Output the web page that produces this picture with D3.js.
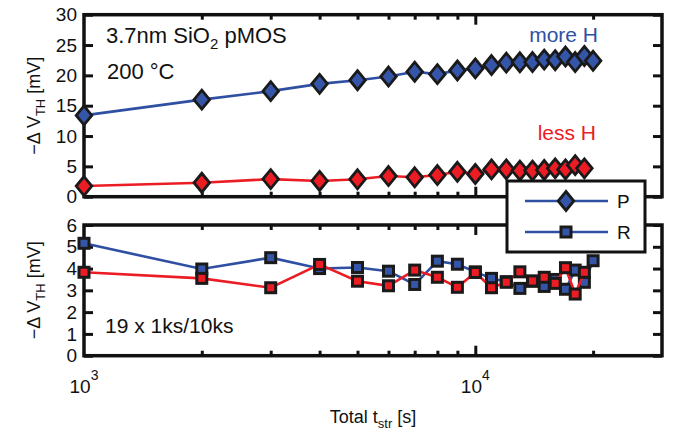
<!DOCTYPE html>
<html><head><meta charset="utf-8">
<script src="https://cdn.jsdelivr.net/npm/d3@7"></script>
<style>
body{margin:0;background:#fff;}
svg{display:block;font-family:"Liberation Sans",Arial,sans-serif;}
</style></head><body>
<svg id="c" width="673" height="433"></svg>
<script>
// ---- data ----
const timesP = [1000,2000,3000,4000,5000,6000,7000,8000,9000,10000,11000,12000,13000,14000,15000,16000,17000,18000,19000,20000];
const moreH_P = [13.4,16.0,17.4,18.6,19.2,19.8,20.6,20.2,20.8,21.15,21.7,22.1,22.15,22.2,22.6,22.5,23.1,22.2,23.2,22.4];
const timesLessH = [1000,2000,3000,4000,5000,6000,7000,8000,9000,10000,11000,12000,13000,14000,15000,16000,17000,18000,19000];
const lessH_P = [1.76,2.3,2.9,2.6,2.87,3.4,3.2,3.57,4.1,3.74,4.5,4.5,4.3,4.3,4.4,4.67,4.5,5.2,4.67];
const moreH_R = [5.16,3.98,4.5,4.0,4.05,3.88,3.27,4.34,4.2,3.85,3.55,3.4,3.09,3.42,3.18,3.5,3.05,3.93,3.37,4.36];
const lessH_R = [3.83,3.55,3.12,4.19,3.42,3.21,3.93,3.6,3.14,3.82,3.12,3.37,3.85,3.43,3.6,3.32,4.04,2.83,3.83];
const xTicks = [1000,2000,3000,4000,5000,6000,7000,8000,9000,10000,20000];
const xMajor = [1000,10000];
const yTicksTop = [0,5,10,15,20,25,30];
const yTicksBot = [0,1,2,3,4,5,6];
const legendItems = ["P","R"];

const BLUE = "#2f4fa3", BLUEF = "#3556a8", RED = "#ec1c24";
const svg = d3.select("#c");
const L = 84, R = 662;
const x = d3.scaleLog().domain([1000,30000]).range([L,R]);
const yT = d3.scaleLinear().domain([0,30]).range([196.7,14.7]);
const yB = d3.scaleLinear().domain([0,6]).range([355.7,225]);

function panel(y, yticks){
  const g = svg.append("g");
  const [y0,y1] = y.range();
  g.append("g").attr("transform",`translate(${L},0)`)
    .call(d3.axisLeft(y).tickValues(yticks).tickSize(-9).tickPadding(7).tickFormat(d3.format("d")))
    .call(a=>{a.select(".domain").remove();
      a.selectAll("line").attr("stroke","#111").attr("stroke-width",3);
      a.selectAll("text").attr("font-size",19).attr("fill","#111");});
  g.append("g").attr("transform",`translate(${R},0)`)
    .call(d3.axisRight(y).tickValues(yticks).tickSize(-9).tickFormat(""))
    .call(a=>{a.select(".domain").remove();
      a.selectAll("line").attr("stroke","#111").attr("stroke-width",3);});
  [[y0,d3.axisBottom],[y1,d3.axisTop]].forEach(([yy,ax])=>{
    g.append("g").attr("transform",`translate(0,${yy})`)
      .call(ax(x).tickValues(xTicks.filter(d=>d>1000)).tickSize(-5).tickFormat(""))
      .call(a=>{a.select(".domain").remove();
        a.selectAll("line").attr("stroke","#111").attr("stroke-width",3)
          .attr("y2",d=> (xMajor.includes(d)?10:5)*(yy===y0?-1:1));});
  });
  g.append("rect").attr("x",L).attr("y",y1).attr("width",R-L).attr("height",y0-y1)
    .attr("fill","none").attr("stroke","#111").attr("stroke-width",3.5);
  return g;
}
const gT = panel(yT, yTicksTop);
const gB = panel(yB, yTicksBot);

const diamond = "M0,-9.5L7.8,0L0,9.5L-7.8,0Z";
function series(g, y, xs, ys, color, fill, shape){
  const line = d3.line().x((d,i)=>x(xs[i])).y(d=>y(d));
  g.append("path").datum(ys).attr("d",line).attr("fill","none").attr("stroke",color).attr("stroke-width",2.6);
  const m = g.append("g");
  ys.forEach((v,i)=>{
    if(shape==="d"){
      m.append("path").attr("d",diamond).attr("transform",`translate(${x(xs[i])},${y(v)})`)
        .attr("fill",fill).attr("stroke","#1a1a1a").attr("stroke-width",2.8).attr("stroke-linejoin","miter");
    } else {
      m.append("rect").attr("x",x(xs[i])-5).attr("y",y(v)-5).attr("width",10).attr("height",10)
        .attr("fill",fill).attr("stroke","#1a1a1a").attr("stroke-width",3);
    }
  });
}
series(gT, yT, timesP, moreH_P, BLUE, BLUEF, "d");
series(gT, yT, timesLessH, lessH_P, RED, RED, "d");
series(gB, yB, timesP, moreH_R, BLUE, BLUEF, "s");
series(gB, yB, timesLessH, lessH_R, RED, RED, "s");

// annotations
const t1 = svg.append("text").attr("x",106).attr("y",43).attr("font-size",22).attr("fill","#111");
t1.append("tspan").text("3.7nm SiO");
t1.append("tspan").attr("font-size",15).attr("dy",6).text("2");
t1.append("tspan").attr("dy",-6).text(" pMOS");
svg.append("text").attr("x",107).attr("y",79).attr("font-size",22).attr("fill","#111").text("200 °C");
svg.append("text").attr("x",598).attr("y",42).attr("font-size",21).attr("fill",BLUE).attr("text-anchor","end").text("more H");
svg.append("text").attr("x",596).attr("y",140).attr("font-size",21).attr("fill",RED).attr("text-anchor","end").text("less H");
svg.append("text").attr("x",105).attr("y",333).attr("font-size",21).attr("fill","#111").text("19 x 1ks/10ks");

function ylab(cy){
  const t = svg.append("text").attr("transform",`translate(40,${cy}) rotate(-90)`)
    .attr("text-anchor","middle").attr("font-size",18).attr("fill","#111");
  t.append("tspan").text("\u2212\u0394 V");
  t.append("tspan").attr("font-size",13).attr("dy",5).text("TH");
  t.append("tspan").attr("dy",-5).text(" [mV]");
}
ylab(105.7); ylab(290.3);

xMajor.forEach(v=>{
  const t = svg.append("text").attr("x",x(v)).attr("y",393).attr("text-anchor","middle").attr("font-size",19).attr("fill","#111");
  t.append("tspan").text("10");
  t.append("tspan").attr("font-size",14).attr("dy",-13).text(String(Math.log10(v)));
});
const xl = svg.append("text").attr("x",373).attr("y",423).attr("text-anchor","middle").attr("font-size",18).attr("fill","#111");
xl.append("tspan").text("Total t");
xl.append("tspan").attr("font-size",13).attr("dy",5).text("str");
xl.append("tspan").attr("dy",-5).text(" [s]");

const lg = svg.append("g");
lg.append("rect").attr("x",507).attr("y",181).attr("width",138).attr("height",71)
  .attr("fill","#fff").attr("stroke","#111").attr("stroke-width",3);
legendItems.forEach((name,i)=>{
  const yy = 201 + i*31;
  lg.append("line").attr("x1",525).attr("x2",608).attr("y1",yy).attr("y2",yy).attr("stroke",BLUE).attr("stroke-width",2.6);
  if(i===0) lg.append("path").attr("d",diamond).attr("transform",`translate(566,${yy})`).attr("fill",BLUEF).attr("stroke","#1a1a1a").attr("stroke-width",2.8);
  else lg.append("rect").attr("x",566-5).attr("y",yy-5).attr("width",10).attr("height",10).attr("fill",BLUEF).attr("stroke","#1a1a1a").attr("stroke-width",3);
  lg.append("text").attr("x",617).attr("y",yy+7).attr("font-size",19).attr("fill","#111").text(name);
});
</script></body></html>
